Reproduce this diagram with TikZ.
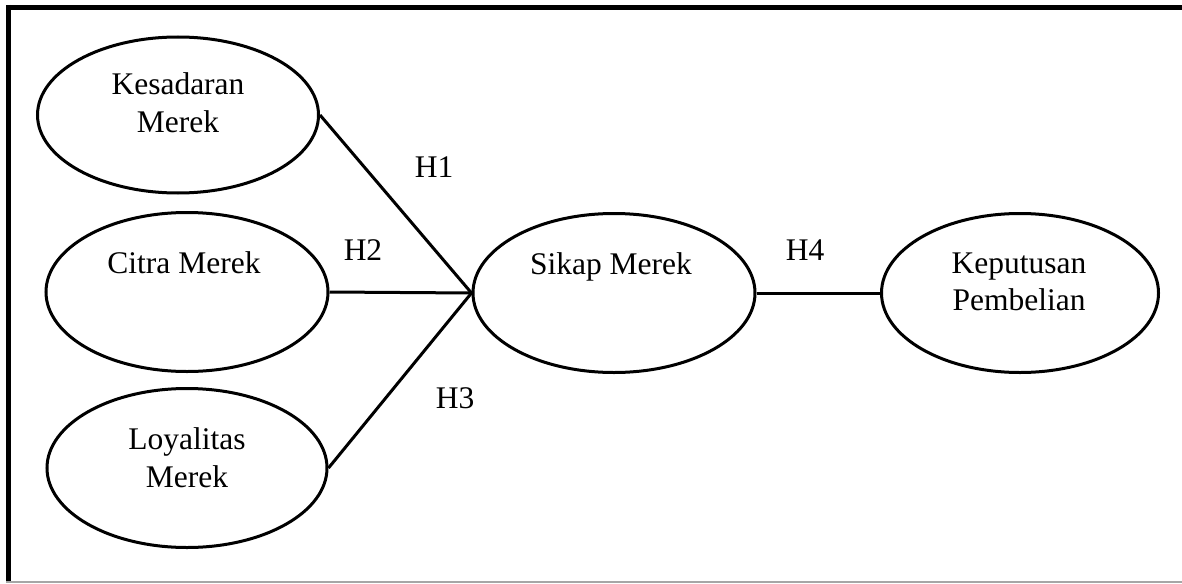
\documentclass[tikz,border=0pt]{standalone}
\usepackage{fontspec}
\setmainfont{Liberation Serif}
\usetikzlibrary{shapes.geometric}
\begin{document}
\begin{tikzpicture}[x=1pt,y=-1pt,
  construct/.style={draw=black, ellipse, line width=3pt, inner sep=0pt},
  lbl/.style={anchor=base, inner sep=0pt, font=\fontsize{31.5}{37}\selectfont},
  link/.style={draw=black, line width=3pt}]
  \useasboundingbox (0,0) rectangle (1182,583);
  \fill[white] (0,0) rectangle (1182,583);

  % frame
  \draw[line width=5pt] (6,7.5) -- (1182,7.5);
  \draw[line width=5pt] (8.5,5) -- (8.5,581);
  \draw[black!35, line width=1.5pt] (6,582) -- (1182,582);

  % constructs
  \node[construct, minimum width=281pt, minimum height=156pt] (kes) at (178,115) {};
  \node[construct, minimum width=282pt, minimum height=159pt] (cit) at (187,292) {};
  \node[construct, minimum width=280pt, minimum height=159pt] (loy) at (187,468) {};
  \node[construct, minimum width=282pt, minimum height=159pt] (sik) at (614,293) {};
  \node[construct, minimum width=277pt, minimum height=159pt] (kep) at (1020,293) {};

  % construct names
  \node[lbl] (kesA) at (178,95) {Kesadaran};
  \node[lbl] (kesB) at (178,132) {Merek};
  \node[lbl] (citA) at (184,273) {Citra Merek};
  \node[lbl] (loyA) at (187,449) {Loyalitas};
  \node[lbl] (loyB) at (187,487) {Merek};
  \node[lbl] (sikA) at (611,274) {Sikap Merek};
  \node[lbl] (kepA) at (1019,273) {Keputusan};
  \node[lbl] (kepB) at (1019,310) {Pembelian};

  % hypothesised paths
  \draw[link] (kes.east) -- (sik.west);
  \draw[link] (cit.east) -- (sik.west);
  \draw[link] (loy.east) -- (sik.west);
  \draw[link] (sik.east) -- (kep.west);

  % hypothesis labels
  \node[lbl] (h1) at (434,177) {H1};
  \node[lbl] (h2) at (363,260) {H2};
  \node[lbl] (h3) at (455,408) {H3};
  \node[lbl] (h4) at (805,260) {H4};
\end{tikzpicture}
\end{document}
